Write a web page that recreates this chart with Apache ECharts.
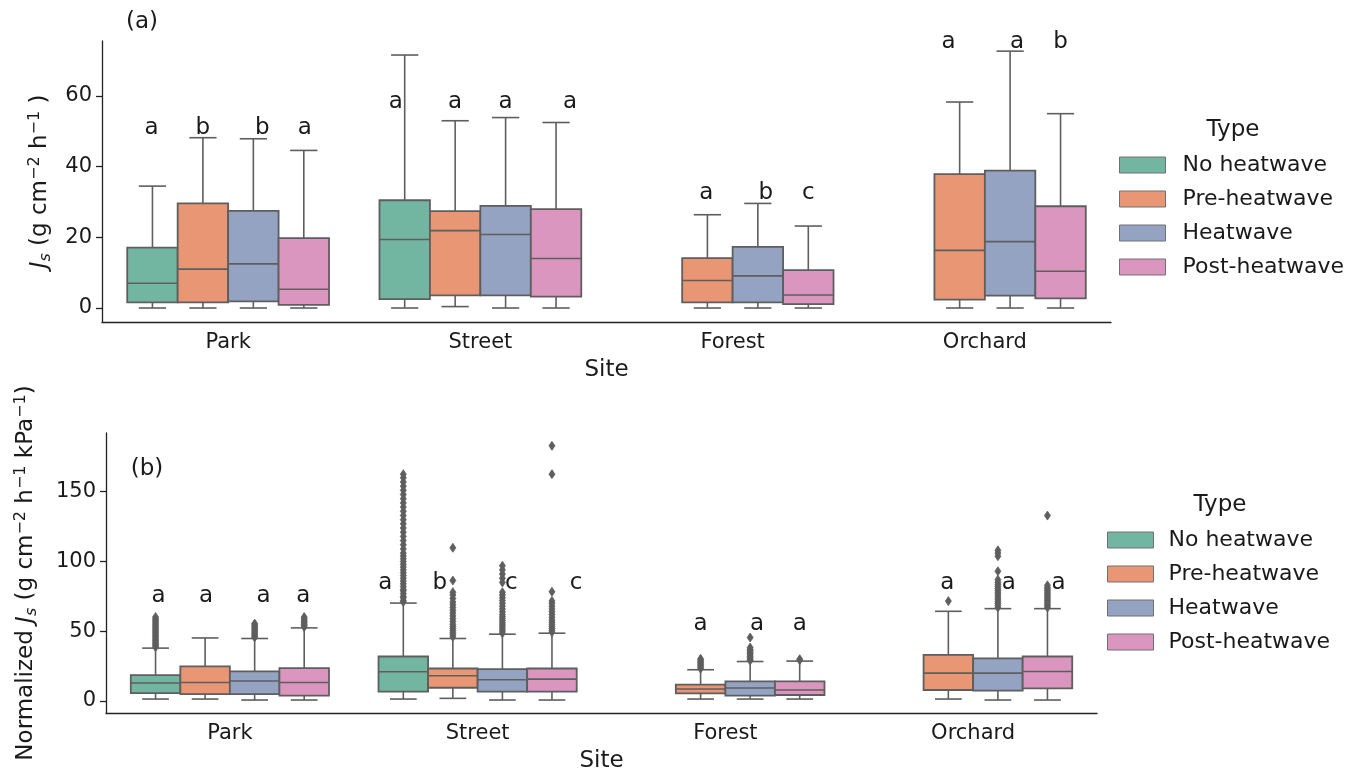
<!DOCTYPE html>
<html>
<head>
<meta charset="utf-8">
<title>Sap flux by site and type</title>
<script src="https://cdn.jsdelivr.net/npm/echarts@6/dist/echarts.min.js"></script>
<style>
  html, body { margin: 0; padding: 0; background: #fff; }
  #chart { width: 1349px; height: 774px; }
</style>
</head>
<body>
<div id="chart"></div>
<script>
// categories
var sites = ['Park', 'Street', 'Forest', 'Orchard'];
var types = ['No heatwave', 'Pre-heatwave', 'Heatwave', 'Post-heatwave'];

// (a) Js boxes per site: [low whisker, Q1, median, Q3, high whisker]
var jsNoHeatwave   = [[0, 1.6, 7.0, 17.1, 34.5], [0, 2.5, 19.4, 30.5, 71.6], null, null];
var jsPreHeatwave  = [[0, 1.6, 11.0, 29.6, 48.2], [0.4, 3.6, 21.9, 27.4, 53.0], [0, 1.6, 7.8, 14.1, 26.4], [0, 2.4, 16.3, 37.9, 58.3]];
var jsHeatwave     = [[0, 1.9, 12.5, 27.5, 47.9], [0, 3.6, 20.8, 28.9, 53.9], [0, 1.6, 9.1, 17.3, 29.6], [0, 3.5, 18.8, 38.9, 72.7]];
var jsPostHeatwave = [[0, 0.9, 5.3, 19.8, 44.6], [0, 3.2, 14.0, 28.0, 52.5], [0, 1.1, 3.7, 10.7, 23.2], [0, 2.7, 10.4, 28.8, 55.0]];
var jsLetters = [['a', 'b', 'b', 'a'], ['a', 'a', 'a', 'a'], [null, 'a', 'b', 'c'], [null, 'a', 'a', 'b']];
var jsLetterY = [50.9, 58.4, 32.5, 75.4];
var jsTicks = [0, 20, 40, 60];

// (b) normalized Js boxes per site
var normNoHeatwave   = [[1.4, 5.7, 12.9, 18.6, 37.9], [1.4, 6.7, 21.0, 31.9, 70.2], null, null];
var normPreHeatwave  = [[1.4, 5.0, 13.3, 24.8, 45.2], [1.9, 9.5, 18.1, 23.3, 44.8], [1.4, 5.5, 8.6, 11.7, 22.4], [1.4, 7.9, 20.0, 33.1, 64.3]];
var normHeatwave     = [[0.7, 5.0, 14.3, 21.2, 44.8], [0.7, 6.7, 15.2, 22.9, 47.9], [1.4, 3.8, 9.3, 14.0, 28.3], [0.7, 7.4, 20.0, 30.5, 66.2]];
var normPostHeatwave = [[0.7, 3.8, 13.3, 23.6, 52.4], [0.7, 6.7, 15.7, 23.3, 48.6], [1.4, 4.3, 7.9, 14.0, 28.6], [0.7, 9.0, 21.2, 31.9, 66.2]];

// (b) outliers per site
var normNoHeatwaveOut = [
  [38.6, 39.5, 40.4, 41.3, 42.2, 43.1, 44, 45, 46, 47, 48, 49, 50, 51, 52, 53, 54, 55, 56, 57, 58, 59, 60.2],
  [71, 72, 74, 75, 77, 79, 80, 82, 84, 86, 88, 90, 92, 94, 96, 98, 100, 102, 104, 106, 109, 112, 115, 118, 121, 124, 127, 130, 133, 136, 139, 142, 145, 148, 151, 154, 157, 160, 162.6],
  [], []
];
var normPreHeatwaveOut = [
  [],
  [46, 47.5, 49, 50.5, 52, 53.5, 55, 57, 59, 61, 63, 65, 67, 69, 71, 73.5, 76, 78, 86.4, 109.8],
  [23.2, 24.2, 25.2, 26.2, 27.2, 28.2, 29.2, 30.2],
  [71.6]
];
var normHeatwaveOut = [
  [45.6, 46.5, 47.5, 48.5, 49.5, 50.5, 51.5, 52.5, 53.5, 54.5, 55.5],
  [48.6, 50, 51.5, 53, 54.5, 56, 57.5, 59, 60.5, 62, 64, 66, 68, 70, 72, 74, 76, 78, 85, 88, 91, 94, 97],
  [29, 30, 31, 32, 33, 34, 35, 36, 37, 38.3, 45.5],
  [67, 68.5, 70, 71.5, 73, 74.5, 76, 77.5, 79, 80.5, 82, 83.5, 85, 87, 93, 103.8, 106, 108]
];
var normPostHeatwaveOut = [
  [53, 54, 55, 56, 57, 58, 59, 60.2],
  [49.3, 50.5, 52, 53.5, 55, 56.5, 58, 60, 62, 64, 66, 68, 70, 71.7, 78.3, 162.6, 182.9],
  [29.3, 30.0],
  [67, 68.2, 69.4, 70.6, 71.8, 73, 74.2, 75.4, 76.6, 77.8, 79, 80.2, 81.4, 82.9, 132.9]
];
var normLetters = [['a', 'a', 'a', 'a'], ['a', 'b', 'c', 'c'], [null, 'a', 'a', 'a'], [null, 'a', 'a', 'a']];
var normLetterY = [75.2, 84.8, 55, 84.8];
var normTicks = [0, 50, 100, 150];

// styling / layout
var colors = ['#72b6a1', '#e99675', '#95a3c3', '#db96c0'];
var lineColor = '#5e5e5e';
var textColor = '#1a1a1a';
// small horizontal nudges (px) of the letters, as in the figure
var jsLetterShift = [[-1, 0, 9, 1], [-9, 0, 0, 14], [0, -1, 8, 0], [0, -11, 7, 0]];
var normLetterShift = [[3, 1, 9, -1], [-18, -13, 9, 24], [0, 0, 7, 0], [0, -1, 11, 11]];

function boxSeries(name, boxes, t, gi) {
    var data = [];
    boxes.forEach(function (b, i) {
        if (b) data.push([i].concat(b));
    });
    return {
        type: 'custom', name: name, xAxisIndex: gi, yAxisIndex: gi,
        data: data, encode: { x: 0, y: [1, 2, 3, 4, 5] },
        itemStyle: { color: colors[t] },
        renderItem: function (params, api) {
            var site = api.value(0);
            var w = api.size([1, 0])[0] * 0.2;
            var cx = api.coord([site, 0])[0] + (t - 1.5) * w;
            function py(k) { return api.coord([site, api.value(k)])[1]; }
            var lo = py(1), q1 = py(2), md = py(3), q3 = py(4), hi = py(5);
            var cap = w * 0.27;
            var ls = { stroke: lineColor, lineWidth: 1.6 };
            return {
                type: 'group', children: [
                    { type: 'line', shape: { x1: cx, y1: q1, x2: cx, y2: lo }, style: ls },
                    { type: 'line', shape: { x1: cx, y1: q3, x2: cx, y2: hi }, style: ls },
                    { type: 'line', shape: { x1: cx - cap, y1: lo, x2: cx + cap, y2: lo }, style: ls },
                    { type: 'line', shape: { x1: cx - cap, y1: hi, x2: cx + cap, y2: hi }, style: ls },
                    { type: 'rect', shape: { x: cx - w / 2, y: q3, width: w, height: q1 - q3 },
                      style: { fill: colors[t], stroke: lineColor, lineWidth: 1.8 } },
                    { type: 'line', shape: { x1: cx - w / 2, y1: md, x2: cx + w / 2, y2: md }, style: ls }
                ]
            };
        }
    };
}

function outlierSeries(name, outs, t, gi) {
    var data = [];
    outs.forEach(function (list, i) {
        list.forEach(function (v) { data.push([i, v]); });
    });
    return {
        type: 'custom', name: name, xAxisIndex: gi, yAxisIndex: gi,
        data: data, encode: { x: 0, y: 1 },
        itemStyle: { color: colors[t] },
        renderItem: function (params, api) {
            var site = api.value(0);
            var w = api.size([1, 0])[0] * 0.2;
            var p = api.coord([site, api.value(1)]);
            var cx = p[0] + (t - 1.5) * w, cy = p[1];
            return {
                type: 'polygon',
                shape: { points: [[cx, cy - 4.5], [cx + 3, cy], [cx, cy + 4.5], [cx - 3, cy]] },
                style: { fill: lineColor, stroke: lineColor, lineWidth: 0.8 }
            };
        }
    };
}

function letterSeries(letters, ys, shifts, gi) {
    var data = [];
    letters.forEach(function (row, i) {
        row.forEach(function (l, t) { if (l) data.push([i, ys[i], t]); });
    });
    return {
        type: 'custom', name: 'letters' + gi, xAxisIndex: gi, yAxisIndex: gi,
        data: data, encode: { x: 0, y: 1 }, z: 5,
        renderItem: function (params, api) {
            var site = api.value(0), t = api.value(2);
            var w = api.size([1, 0])[0] * 0.2;
            var p = api.coord([site, api.value(1)]);
            return {
                type: 'text', x: p[0] + (t - 1.5) * w + shifts[site][t], y: p[1],
                style: { text: letters[site][t], fontSize: 23, fill: textColor,
                         fontFamily: 'DejaVu Sans', align: 'center', verticalAlign: 'middle' }
            };
        }
    };
}

function xAxisOf(gi) {
    return {
        type: 'category', gridIndex: gi, data: sites, boundaryGap: true,
        name: 'Site', nameLocation: 'middle', nameGap: 37,
        nameTextStyle: { fontSize: 23, color: textColor },
        axisLine: { onZero: false, lineStyle: { color: '#222', width: 1.3 } },
        axisTick: { alignWithLabel: true, length: 6, lineStyle: { color: '#222', width: 1.3 } },
        axisLabel: { fontSize: 21, color: textColor, margin: 10 },
        splitLine: { show: false }
    };
}

function yAxisOf(gi, min, max, ticks, name, gap) {
    return {
        type: 'value', gridIndex: gi, min: min, max: max,
        name: name, nameLocation: 'middle', nameGap: gap, nameRotate: 90,
        nameTextStyle: {
            fontSize: 23, color: textColor,
            rich: {
                i: { fontSize: 23, fontStyle: 'italic', color: textColor },
                s: { fontSize: 16, fontStyle: 'italic', color: textColor, padding: [10, 0, 0, 0] },
                p: { fontSize: 16, color: textColor, padding: [0, 0, 11, 0] }
            }
        },
        axisLine: { show: true, onZero: false, lineStyle: { color: '#222', width: 1.3 } },
        axisTick: { show: true, length: 6, customValues: ticks, lineStyle: { color: '#222', width: 1.3 } },
        axisLabel: { fontSize: 21, color: textColor, margin: 10, customValues: ticks },
        splitLine: { show: false }
    };
}

function legendOf(left, top, pad) {
    return {
        data: types, orient: 'vertical', left: left, top: top,
        icon: 'rect', itemWidth: 46, itemHeight: 16, itemGap: 12,
        selectedMode: false,
        itemStyle: { borderColor: '#707070', borderWidth: 1 },
        textStyle: { fontSize: 22, color: textColor, padding: [0, 0, 0, pad] }
    };
}

var series = [];
var jsSets = [jsNoHeatwave, jsPreHeatwave, jsHeatwave, jsPostHeatwave];
var normSets = [normNoHeatwave, normPreHeatwave, normHeatwave, normPostHeatwave];
var normOuts = [normNoHeatwaveOut, normPreHeatwaveOut, normHeatwaveOut, normPostHeatwaveOut];
for (var t = 0; t < types.length; t++) {
    series.push(boxSeries(types[t], jsSets[t], t, 0));
    series.push(boxSeries(types[t], normSets[t], t, 1));
    series.push(outlierSeries(types[t], normOuts[t], t, 1));
}
series.push(letterSeries(jsLetters, jsLetterY, jsLetterShift, 0));
series.push(letterSeries(normLetters, normLetterY, normLetterShift, 1));

var myChart = echarts.init(document.getElementById('chart'));
myChart.setOption({
    animation: false,
    backgroundColor: '#fff',
    textStyle: { fontFamily: 'DejaVu Sans' },
    grid: [
        { left: 102, top: 41, width: 1009, height: 281 },
        { left: 106, top: 433, width: 991, height: 281 }
    ],
    xAxis: [xAxisOf(0), xAxisOf(1)],
    yAxis: [
        yAxisOf(0, -3.96, 75.57, jsTicks, '{i|J}{s|s} (g cm{p|\u22122} h{p|\u22121} )', 48),
        yAxisOf(1, -8.6, 192.1, normTicks, 'Normalized {i|J}{s|s} (g cm{p|\u22122} h{p|\u22121} kPa{p|\u22121})', 66)
    ],
    legend: [legendOf(1114, 149, 12), legendOf(1102, 524, 10)],
    graphic: [
        { type: 'text', x: 142, y: 22, style: { text: '(a)', fontSize: 23, fill: textColor, fontFamily: 'DejaVu Sans', align: 'center', verticalAlign: 'middle' } },
        { type: 'text', x: 147, y: 469, style: { text: '(b)', fontSize: 23, fill: textColor, fontFamily: 'DejaVu Sans', align: 'center', verticalAlign: 'middle' } },
        { type: 'text', x: 1233, y: 130, style: { text: 'Type', fontSize: 23, fill: textColor, fontFamily: 'DejaVu Sans', align: 'center', verticalAlign: 'middle' } },
        { type: 'text', x: 1220, y: 505, style: { text: 'Type', fontSize: 23, fill: textColor, fontFamily: 'DejaVu Sans', align: 'center', verticalAlign: 'middle' } }
    ],
    series: series
});
window.onresize = function () {
    myChart.resize();
};
</script>
</body>
</html>
